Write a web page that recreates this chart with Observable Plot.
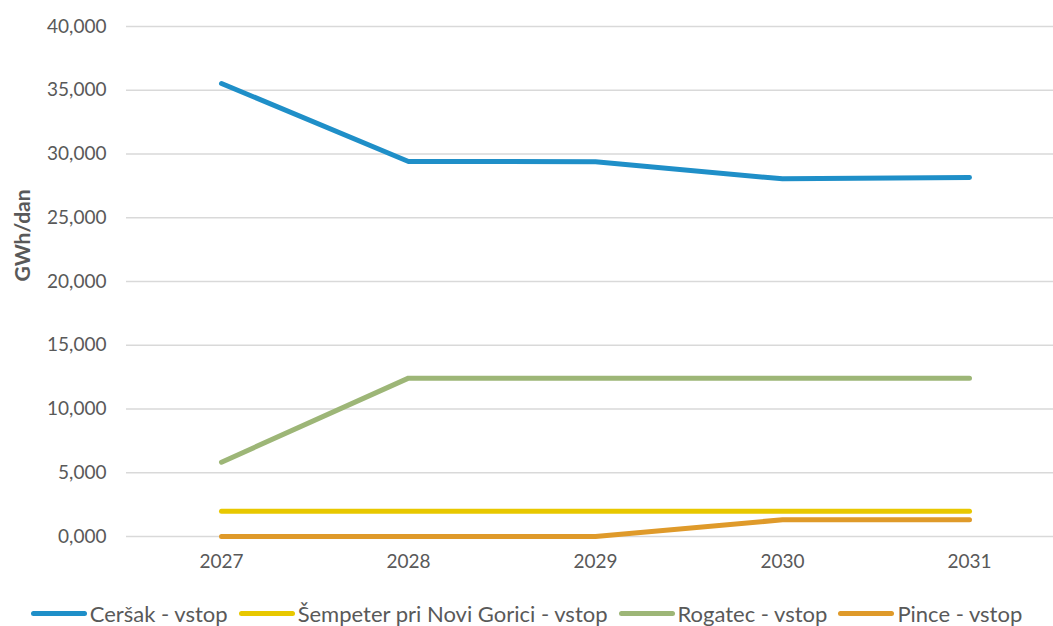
<!DOCTYPE html>
<html>
<head>
<meta charset="utf-8">
<script src="https://cdn.jsdelivr.net/npm/d3@7"></script>
<script src="https://cdn.jsdelivr.net/npm/@observablehq/plot@0.6"></script>
<style>
  body { margin: 0; background: #fff; font-family: Lato, "Open Sans", sans-serif; }
  #chart { width: 1053px; }
  .legend { display: flex; justify-content: center; align-items: center; gap: 11px; font-size: 22px; color: #595959; height: 36px; margin-top: 5px; }
  .legend .item { display: flex; align-items: center; }
  .legend .sw { width: 56px; height: 5px; border-radius: 3px; margin-right: 3px; }
</style>
</head>
<body>
<div id="chart"></div>
<script>
const years = ["2027", "2028", "2029", "2030", "2031"];
const seriesNames = ["Ceršak - vstop", "Šempeter pri Novi Gorici - vstop", "Rogatec - vstop", "Pince - vstop"];
const colors = ["#1f8fc8", "#e8c800", "#9db677", "#df9a2a"];
const cersak = [35.53, 29.41, 29.40, 28.05, 28.16];
const sempeter = [1.98, 1.98, 1.98, 1.98, 1.98];
const rogatec = [5.83, 12.42, 12.42, 12.42, 12.42];
const pince = [0, 0, 0, 1.31, 1.31];
const yTicks = [0, 5, 10, 15, 20, 25, 30, 35, 40];

const valuesBySeries = [cersak, sempeter, rogatec, pince];
const data = [];
valuesBySeries.forEach((vals, i) => vals.forEach((v, j) => data.push({series: seriesNames[i], year: years[j], value: v})));

const fmt = v => d3.format(",.3f")(v).replace(".", ",");

const chart = Plot.plot({
  width: 1053,
  height: 590,
  marginLeft: 126,
  marginRight: 0,
  marginTop: 26,
  marginBottom: 54,
  style: { fontFamily: "Lato, 'Open Sans', sans-serif", fontSize: "19px", color: "#595959", background: "#fff" },
  x: { type: "point", domain: years, range: [219, 970], padding: 0, label: null },
  y: { domain: [0, 40], ticks: yTicks, label: null },
  color: { domain: seriesNames, range: colors },
  marks: [
    Plot.gridY(yTicks, { stroke: "#d9d9d9", strokeOpacity: 1, strokeWidth: 1.5 }),
    Plot.axisY(yTicks, { tickSize: 0, tickPadding: 20, tickFormat: fmt, fontSize: 19, fill: "#595959" }),
    Plot.axisX(years, { tickSize: 0, tickPadding: 18, fontSize: 19, fill: "#595959" }),
    Plot.text(["GWh/dan"], { frameAnchor: "left", dx: -103, dy: 0, rotate: -90, fontWeight: "bold", fontSize: 21, fill: "#595959" }),
    Plot.line(data, { x: "year", y: "value", z: "series", stroke: "series", strokeWidth: 5, strokeLinecap: "round", strokeLinejoin: "round" })
  ]
});
document.getElementById("chart").appendChild(chart);

const legend = document.createElement("div");
legend.className = "legend";
seriesNames.forEach((name, i) => {
  const item = document.createElement("div");
  item.className = "item";
  const sw = document.createElement("span");
  sw.className = "sw";
  sw.style.background = colors[i];
  const t = document.createElement("span");
  t.textContent = name;
  item.appendChild(sw);
  item.appendChild(t);
  legend.appendChild(item);
});
document.getElementById("chart").appendChild(legend);
</script>
</body>
</html>
